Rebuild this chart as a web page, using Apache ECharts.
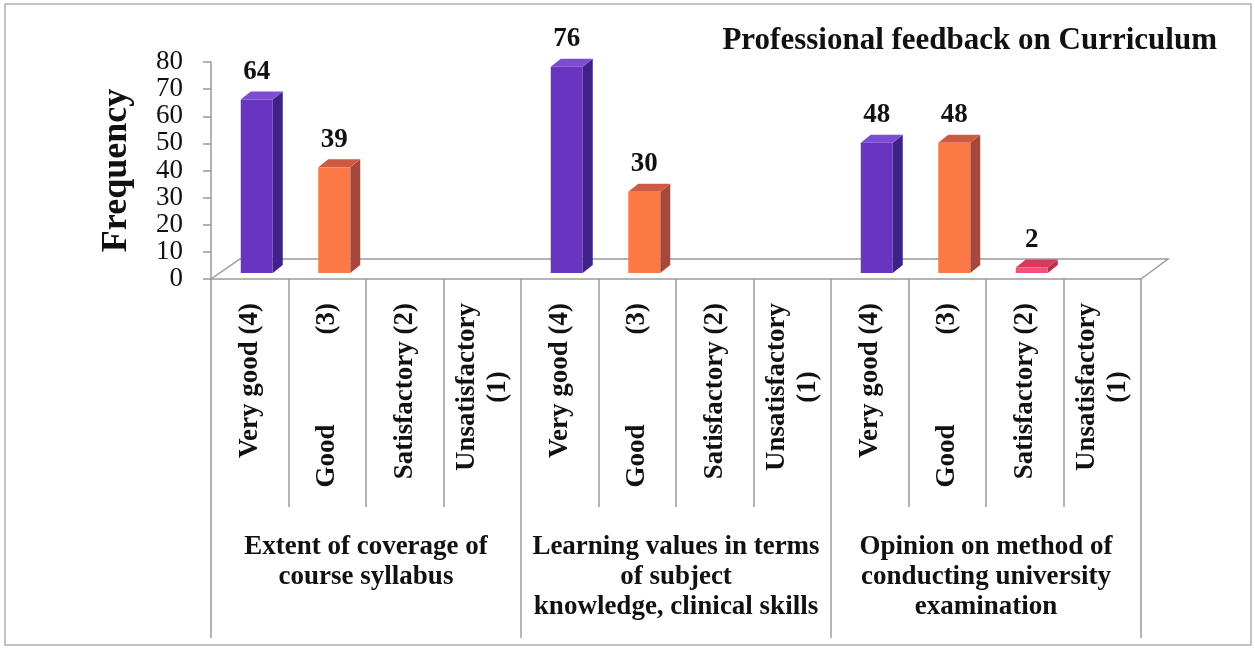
<!DOCTYPE html>
<html>
<head>
<meta charset="utf-8">
<script src="https://cdn.jsdelivr.net/npm/echarts@6/dist/echarts.min.js"></script>
<style>
html,body{margin:0;padding:0;background:#fff;}
#chart{width:1255px;height:655px;}
</style>
</head>
<body>
<div id="chart"></div>
<script>
// ---- data ----
const ratingLabels = ['Very good (4)', 'Good (3)', 'Satisfactory (2)', 'Unsatisfactory (1)'];
const groupLabels = [
  'Extent of coverage of\ncourse syllabus',
  'Learning values in terms\nof subject\nknowledge, clinical skills',
  'Opinion on method of\nconducting university\nexamination'
];
const coverageValues = [64, 39, 0, 0];
const learningValues = [76, 30, 0, 0];
const examValues = [48, 48, 2, 0];
const titleText = 'Professional feedback on Curriculum';
const yAxisName = 'Frequency';

// ---- styling ----
const palette = [
  { front: '#6834c0', side: '#3e2288', top: '#7c4cd2' },
  { front: '#fd7a46', side: '#a8483c', top: '#cf5a44' },
  { front: '#f4507c', side: '#b8304e', top: '#d83a5e' },
  { front: '#8888cc', side: '#555599', top: '#9999dd' }
];
const serif = '"Liberation Serif", "DejaVu Serif", serif';
const gray = '#9a9a9a';

const allGroups = [coverageValues, learningValues, examValues];
const categories = [];
const barData = [];
allGroups.forEach((vals, g) => {
  vals.forEach((v, r) => {
    categories.push('c' + (g * 4 + r));
    barData.push([g * 4 + r, v, r]);
  });
});

function renderBar(params, api) {
  const idx = api.value(0), v = api.value(1), r = api.value(2);
  if (!v) return null;
  const base = api.coord([idx, 0]);
  const top = api.coord([idx, v]);
  const w = 32, dx = 7, dy = -6, ddx = 10, ddy = -8;
  const x0 = base[0] + dx - w / 2, x1 = x0 + w;
  const yb = base[1] + dy, yt = top[1] + dy;
  const c = palette[r];
  return {
    type: 'group',
    children: [
      { type: 'polygon', shape: { points: [[x1, yt], [x1 + ddx, yt + ddy], [x1 + ddx, yb + ddy], [x1, yb]] }, style: { fill: c.side } },
      { type: 'polygon', shape: { points: [[x0, yt], [x0 + ddx, yt + ddy], [x1 + ddx, yt + ddy], [x1, yt]] }, style: { fill: c.top } },
      { type: 'rect', shape: { x: x0, y: yt, width: w, height: yb - yt }, style: { fill: c.front } },
      { type: 'text', x: (x0 + x1) / 2, y: yt + ddy - 6,
        style: { text: String(v), fontFamily: serif, fontWeight: 'bold', fontSize: 27, fill: '#111',
                 align: 'center', verticalAlign: 'bottom', textAlign: 'center', textVerticalAlign: 'bottom' } }
    ]
  };
}

function renderFloor(params, api) {
  const cs = params.coordSys;
  const x = cs.x, y = cs.y + cs.height, w = cs.width;
  return {
    type: 'polyline',
    shape: { points: [[x, y], [x + 29, y - 20], [x + w + 27, y - 20], [x + w, y]] },
    style: { stroke: gray, lineWidth: 1.5, fill: null }
  };
}

function xLabelFormatter(value, index) {
  const r = index % 4;
  if (r === 1) return '{t|Good}{gap|}{t|(3)}';
  if (r === 3) return '{c|Unsatisfactory}\n{c|(1)}';
  return '{t|' + ratingLabels[r] + '}';
}

const labelFont = { fontFamily: serif, fontWeight: 'bold', fontSize: 27, color: '#111' };

const chart = echarts.init(document.getElementById('chart'));
chart.setOption({
  backgroundColor: '#fff',
  animation: false,
  title: {
    text: titleText,
    right: 33, top: 20,
    textStyle: { fontFamily: serif, fontWeight: 'bold', fontSize: 31, color: '#111' }
  },
  grid: { left: 211, right: 114, top: 62, bottom: 376, containLabel: false },
  xAxis: [
    {
      type: 'category', data: categories, position: 'bottom',
      axisLine: { show: true, lineStyle: { color: gray, width: 1.5 } },
      axisTick: { show: true, interval: 0, length: 228, lineStyle: { color: gray, width: 1.5 } },
      axisLabel: {
        interval: 0, rotate: 90, margin: 24, formatter: xLabelFormatter,
        fontFamily: serif, fontWeight: 'bold', fontSize: 27, color: '#111', lineHeight: 31,
        rich: {
          t: Object.assign({}, labelFont),
          gap: { width: 90 },
          c: Object.assign({ width: 168, align: 'center', lineHeight: 31 }, labelFont)
        }
      },
      splitLine: { show: false }
    },
    {
      type: 'category', data: groupLabels, position: 'bottom', gridIndex: 0,
      axisLine: { show: false },
      axisTick: { show: true, interval: 0, length: 359, lineStyle: { color: gray, width: 1.5 } },
      axisLabel: {
        interval: 0, margin: 253, fontFamily: serif, fontWeight: 'bold', fontSize: 27,
        color: '#111', lineHeight: 30, align: 'center', verticalAlign: 'top'
      },
      splitLine: { show: false }
    }
  ],
  yAxis: {
    type: 'value', min: 0, max: 80, interval: 10,
    name: yAxisName, nameLocation: 'middle', nameGap: 76, nameRotate: 90,
    nameTextStyle: { fontFamily: serif, fontWeight: 'bold', fontSize: 36, color: '#111' },
    axisLine: { show: true, lineStyle: { color: gray, width: 1.5 } },
    axisTick: { show: true, length: 8, lineStyle: { color: gray, width: 1.5 } },
    axisLabel: { margin: 28, fontFamily: serif, fontSize: 27, color: '#111' },
    splitLine: { show: false }
  },
  graphic: [
    { type: 'rect', shape: { x: 5, y: 4, width: 1246, height: 641 },
      style: { fill: null, stroke: '#b0b0b0', lineWidth: 1.5 }, z: 0 }
  ],
  series: [
    { type: 'custom', name: 'floor', xAxisIndex: 0, yAxisIndex: 0, renderItem: renderFloor,
      data: [[0, 0]], z: 1, silent: true, clip: false },
    { type: 'custom', name: 'feedback', xAxisIndex: 0, yAxisIndex: 0, renderItem: renderBar,
      data: barData, z: 3, clip: false }
  ]
});
</script>
</body>
</html>
